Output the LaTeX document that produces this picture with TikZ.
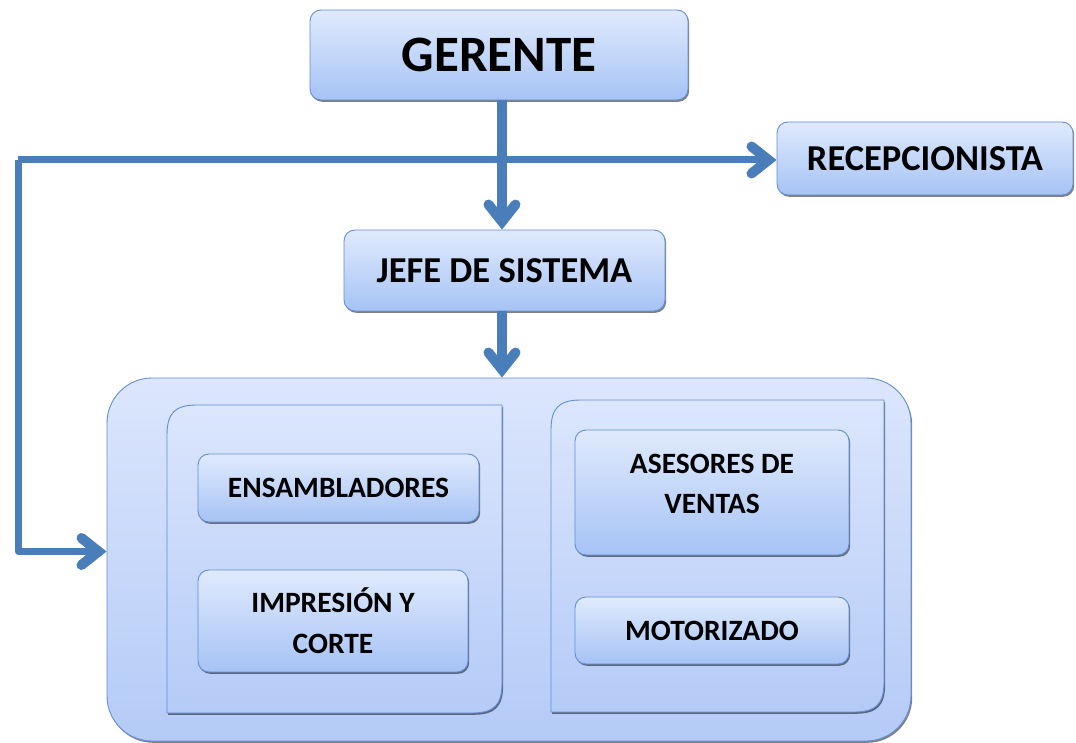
\documentclass[tikz,border=0pt]{standalone}
\usepackage{fontspec}
\setmainfont{Carlito}
\usetikzlibrary{arrows.meta,shadows}
\definecolor{connc}{RGB}{74,126,187}
\definecolor{edgec}{RGB}{98,142,212}
\definecolor{ftop}{RGB}{224,234,253}
\definecolor{fbot}{RGB}{166,195,245}
\definecolor{ctop}{RGB}{220,230,253}
\definecolor{cbot}{RGB}{180,203,247}
\begin{document}
\begin{tikzpicture}[x=1pt,y=-1pt,
  shad/.style={drop shadow={shadow xshift=1.2pt,shadow yshift=-1.8pt,opacity=0.5,fill=black}},
  box/.style={draw=edgec,line width=0.9pt,rounded corners=11pt,top color=ftop,bottom color=fbot,
    font=\bfseries,align=center,inner sep=0pt,shad},
  bigbox/.style={box,font=\fontsize{51}{60}\selectfont\bfseries},
  midbox/.style={box,font=\fontsize{36.5}{42}\selectfont\bfseries},
  smallbox/.style={box,font=\fontsize{29.5}{41}\selectfont\bfseries},
  grpbox/.style={draw=edgec,line width=0.9pt,rounded corners=45pt,top color=ctop,bottom color=cbot,shad},
  panel/.style={draw=edgec,line width=0.9pt,top color=ctop,bottom color=cbot,shad},
  tip/.style={-{Straight Barb[length=17pt,width=27pt,line width=10pt,line cap=round,line join=miter]}},
  conn/.style={draw=connc,line width=10pt,tip},
  connthin/.style={draw=connc,line width=7pt,line join=round,tip},
]
\useasboundingbox (0,0) rectangle (1076,743);

% main nodes
\node[bigbox,minimum width=378pt,minimum height=90pt] (ger) at (499,55) {GERENTE};
\node[midbox,minimum width=296pt,minimum height=73pt] (recep) at (925,158.5) {RECEPCIONISTA};
\node[midbox,minimum width=321pt,minimum height=81pt] (jefe) at (504.5,270.5) {JEFE DE SISTEMA};

% group container
\node[grpbox,minimum width=804pt,minimum height=363pt] (grp) at (509,559.5) {};

% inner panels (round diagonal corners)
\path[panel] (167,713) -- (167,435) .. controls (167,413) and (175,405) .. (197,405)
  -- (502,405) -- (502,683) .. controls (502,705) and (494,713) .. (472,713) -- cycle;
\path[panel] (551,712) -- (551,430) .. controls (551,408) and (559,400) .. (581,400)
  -- (884,400) -- (884,682) .. controls (884,704) and (876,712) .. (854,712) -- cycle;

% inner boxes
\node[smallbox,minimum width=281pt,minimum height=68pt] (ens) at (338.5,488) {ENSAMBLADORES};
\node[smallbox,minimum width=270pt,minimum height=102pt] (imp) at (333,621) {IMPRESIÓN Y\\CORTE};
\node[smallbox,minimum width=274pt,minimum height=125pt] (ase) at (712,492.5) {\raisebox{7pt}[\dimexpr\height+7pt\relax][\dimexpr\depth+7pt\relax]{\begin{tabular}{@{}c@{}}ASESORES DE\\[-1pt]VENTAS\end{tabular}}};
\node[smallbox,minimum width=274pt,minimum height=67pt] (mot) at (712,630.5) {MOTORIZADO};

% connectors
\coordinate (corner) at (18,160);
\draw[connthin] (corner) -- (recep.west |- corner);
\draw[connthin] (corner) |- ([yshift=8pt]grp.west);
\draw[conn] ([xshift=3pt]ger.south) -- ([xshift=3pt]ger.south |- jefe.north);
\draw[conn] ([xshift=-2.5pt]jefe.south) -- ([xshift=-2.5pt]jefe.south |- grp.north);
\end{tikzpicture}
\end{document}
